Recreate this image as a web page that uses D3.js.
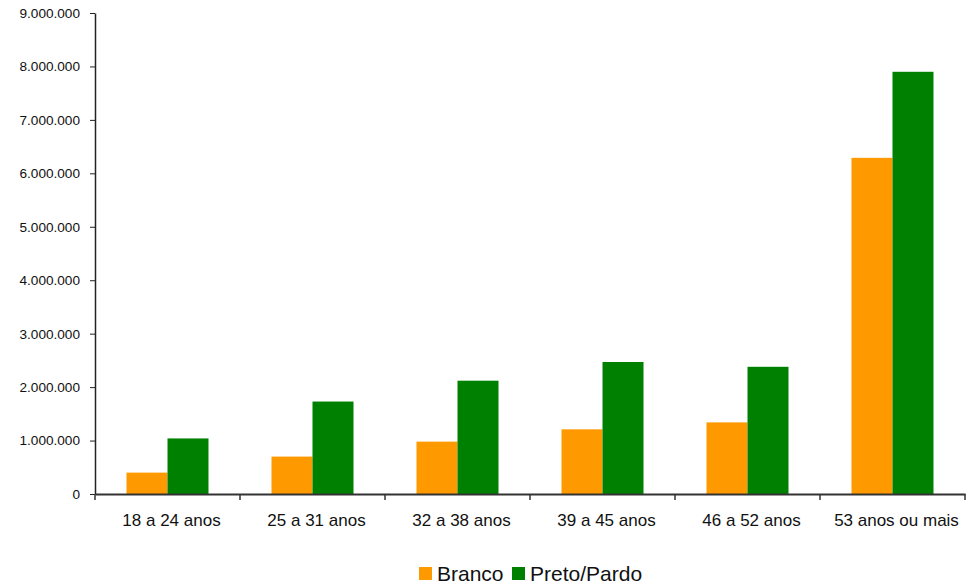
<!DOCTYPE html>
<html><head><meta charset="utf-8">
<script src="https://cdn.jsdelivr.net/npm/d3@7"></script>
<style>body{margin:0;background:#fff}svg{display:block}</style>
</head><body>
<svg id="c" width="975" height="584"></svg>
<script>
const categories = ["18 a 24 anos","25 a 31 anos","32 a 38 anos","39 a 45 anos","46 a 52 anos","53 anos ou mais"];
const seriesNames = ["Branco","Preto/Pardo"];
const branco = [400000, 700000, 980000, 1210000, 1340000, 6290000];
const pretoPardo = [1040000, 1730000, 2120000, 2470000, 2380000, 7900000];
const yTicks = [0,1000000,2000000,3000000,4000000,5000000,6000000,7000000,8000000,9000000];
const colors = ["#FF9900","#008000"];

const svg = d3.select("#c");
const m = {left:95, right:10, top:13, bottom:90};
const W = 975, H = 584;
const x = d3.scaleBand().domain(categories).range([m.left, W - m.right]);
const y = d3.scaleLinear().domain([0, 9000000]).range([494, 13]);
const inner = d3.scaleBand().domain(seriesNames).range([0, 82]);
const offset = (x.bandwidth() - 82) / 2;

const fmt = v => d3.format(",")(v).replace(/,/g, ".");
const font = "Liberation Sans, Arial, sans-serif";

// bars
const data = categories.map((c,i)=>({c, vals:[branco[i], pretoPardo[i]]}));
const g = svg.append("g");
data.forEach(d=>{
  d.vals.forEach((v,j)=>{
    g.append("rect")
      .attr("x", x(d.c) + offset + inner(seriesNames[j]))
      .attr("y", y(v))
      .attr("width", inner.bandwidth())
      .attr("height", y(0) - y(v))
      .attr("fill", colors[j]);
  });
});

// y axis
const ya = svg.append("g").attr("transform", `translate(${m.left},0)`)
  .call(d3.axisLeft(y).tickValues(yTicks).tickFormat(fmt).tickSize(5).tickSizeOuter(0));
ya.select(".domain").attr("stroke","#222").attr("stroke-width",1.5);
ya.selectAll(".tick line").attr("stroke","#222");
ya.selectAll("text").attr("font-family",font).attr("font-size",13.6).attr("fill","#111").attr("x",-15);

// x axis
const xa = svg.append("g").attr("transform", `translate(0,${y(0)})`)
  .call(d3.axisBottom(x).tickSize(0).tickSizeOuter(0));
xa.select(".domain").attr("stroke","#333").attr("stroke-width",2);
xa.selectAll("text").attr("font-family",font).attr("font-size",17).attr("fill","#111").attr("dy","0.71em").attr("y",20).attr("x",4);
// category separator ticks
const bounds = categories.map(c=>x(c)).concat([x(categories[categories.length-1]) + x.bandwidth()]);
xa.selectAll("line.sep").data(bounds).enter().append("line")
  .attr("class","sep").attr("x1",d=>d).attr("x2",d=>d).attr("y1",0).attr("y2",6)
  .attr("stroke","#333").attr("stroke-width",1.5);

// legend
const lg = svg.append("g").attr("transform","translate(419,567)");
const items = [{n:seriesNames[0],c:colors[0],x:0},{n:seriesNames[1],c:colors[1],x:93}];
items.forEach(it=>{
  lg.append("rect").attr("x",it.x).attr("y",0).attr("width",13).attr("height",13).attr("fill",it.c);
  lg.append("text").attr("x",it.x+18).attr("y",14).attr("font-family",font).attr("font-size",21).attr("fill","#111").text(it.n);
});
</script>
</body></html>
